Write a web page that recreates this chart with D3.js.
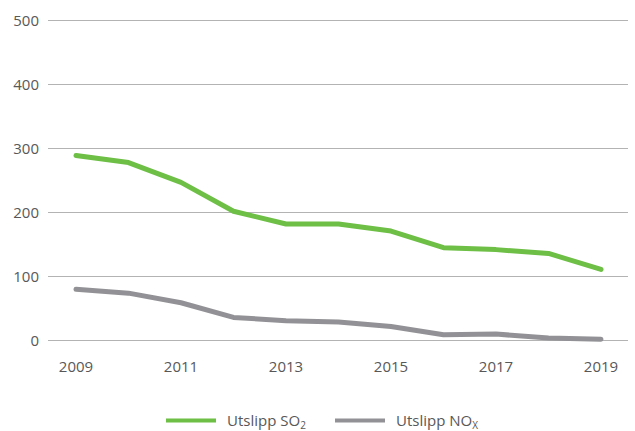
<!DOCTYPE html>
<html>
<head>
<meta charset="utf-8">
<script src="https://cdn.jsdelivr.net/npm/d3@7"></script>
<style>
  body { margin: 0; background: #fff; }
  text { font-family: "Open Sans", sans-serif; fill: #585858; }
</style>
</head>
<body>
<div id="chart"></div>
<script>
// Data
var years = [2009, 2010, 2011, 2012, 2013, 2014, 2015, 2016, 2017, 2018, 2019];
var so2 = [289, 278, 247, 202, 182, 182, 171, 145, 142, 136, 111];
var nox = [80, 74, 59, 36, 31, 29, 22, 9, 10, 4, 2];
var yTicks = [0, 100, 200, 300, 400, 500];
var xTicks = [2009, 2011, 2013, 2015, 2017, 2019];

var w = 635, h = 431;

var svg = d3.select("#chart")
    .append("svg")
    .attr("width", w)
    .attr("height", h);

// Scales
var xScale = d3.scaleLinear()
    .domain([2009, 2019])
    .range([76, 601]);

var yScale = d3.scaleLinear()
    .domain([0, 500])
    .range([340.5, 20.5]);

// Gridlines
svg.append("g")
    .selectAll("line")
    .data(yTicks)
    .enter()
    .append("line")
    .attr("x1", 48)
    .attr("x2", 628)
    .attr("y1", d => yScale(d))
    .attr("y2", d => yScale(d))
    .attr("stroke", "#b3b3b3")
    .attr("stroke-width", 1.2);

// Y axis labels
svg.append("g")
    .selectAll("text")
    .data(yTicks)
    .enter()
    .append("text")
    .attr("x", 39)
    .attr("y", d => yScale(d) + 5.5)
    .attr("text-anchor", "end")
    .style("font-size", "15px")
    .text(d => d);

// X axis labels
svg.append("g")
    .selectAll("text")
    .data(xTicks)
    .enter()
    .append("text")
    .attr("x", d => xScale(d))
    .attr("y", 372)
    .attr("text-anchor", "middle")
    .style("font-size", "15px")
    .text(d => d);

// Lines
var line = d3.line()
    .x((d, i) => xScale(years[i]))
    .y(d => yScale(d));

var series = [
    { values: nox, color: "#929296" },
    { values: so2, color: "#6dbf45" }
];

svg.selectAll("path.series")
    .data(series)
    .enter()
    .append("path")
    .attr("class", "series")
    .attr("d", d => line(d.values))
    .attr("fill", "none")
    .attr("stroke", d => d.color)
    .attr("stroke-width", 5)
    .attr("stroke-linecap", "round")
    .attr("stroke-linejoin", "round");

// Legend
var legend = [
    { name: "Utslipp SO", sub: "2", color: "#6dbf45", x: 166 },
    { name: "Utslipp NO", sub: "X", color: "#929296", x: 335 }
];

var lg = svg.append("g")
    .selectAll("g")
    .data(legend)
    .enter()
    .append("g")
    .attr("transform", d => `translate(${d.x},420.5)`);

lg.append("line")
    .attr("x1", 0)
    .attr("x2", 50)
    .attr("stroke", d => d.color)
    .attr("stroke-width", 4);

var lt = lg.append("text")
    .attr("x", 61)
    .attr("y", 5.5)
    .style("font-size", "15px");

lt.append("tspan").text(d => d.name);
lt.append("tspan")
    .attr("dy", 3)
    .style("font-size", "10px")
    .text(d => d.sub);
</script>
</body>
</html>
